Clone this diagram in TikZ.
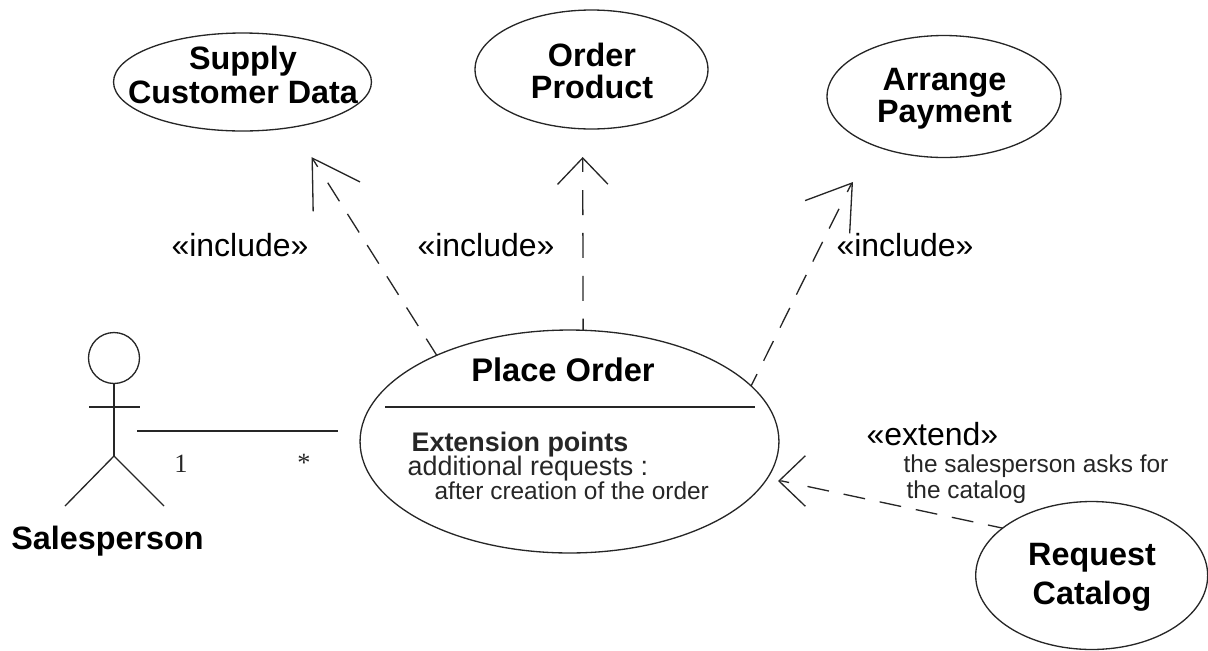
\documentclass[tikz,border=0pt]{standalone}
\usepackage{fontspec}
\setmainfont{Liberation Sans}
\newfontfamily\serifnum{Liberation Serif}
\usetikzlibrary{shapes.geometric, arrows.meta, positioning}

\begin{document}
\begin{tikzpicture}[
    x=0.02cm, y=-0.02cm,
    line width=0.75pt,
    usecase/.style = {
        ellipse, draw=black!85, inner sep=0pt, outer sep=0pt
    },
    title/.style = {
        align=center, inner sep=0pt, font=\fontsize{18.4}{18.3}\selectfont\bfseries
    },
    stereo/.style = {
        inner sep=0pt, font=\fontsize{18.2}{20}\selectfont
    },
    small/.style = {
        inner sep=0pt, text=black!85, font=\fontsize{13.9}{15}\selectfont
    },
    extpoint/.style = {
        inner sep=0pt, text=black!85, font=\fontsize{15.3}{17}\selectfont
    },
    mult/.style = {
        inner sep=0pt, text=black!85, font=\fontsize{15}{15}\serifnum
    },
    depline/.style = {
        draw=black!85,
        dash pattern=on 5.5pt off 10.7pt on 12.5pt off 8.5pt on 12.5pt off 8.5pt
            on 12.5pt off 8.5pt on 12.5pt off 8.5pt on 12.5pt off 8.5pt
            on 12.5pt off 8.5pt on 12.5pt off 8.5pt on 12.5pt off 8.5pt
    },
    bigdep/.style = {
        {Straight Barb[length=#1, width=31.5pt]}-, depline
    },
    smalldep/.style = {
        {Straight Barb[length=15pt, width=28.7pt]}-, depline
    },
    limb/.style = {draw=black!85},
]
\useasboundingbox (0,0) rectangle (1208,650);

% Use cases
\node[usecase, minimum width=5.16cm, minimum height=1.96cm] (supply) at (242.5,82) {};
\node[usecase, minimum width=4.66cm, minimum height=2.38cm] (order) at (591.5,69.5) {};
\node[usecase, minimum width=4.68cm, minimum height=2.44cm] (arrange) at (944,96.5) {};
\node[usecase, minimum width=8.38cm, minimum height=4.46cm] (place) at (569.5,441.5) {};
\node[usecase, minimum width=4.64cm, minimum height=2.96cm] (request) at (1091.7,575.5) {};

\node[title, font=\fontsize{18.4}{19}\selectfont\bfseries] (supplyText) at (243,75) {Supply\\Customer Data};
\node[title] (orderText) at (592,71) {Order\\Product};
\node[title] (arrangeText) at (944.5,99) {Arrange\\Payment};
\node[title, font=\fontsize{18.4}{22}\selectfont\bfseries] (requestText) at (1092,577) {Request\\Catalog};

% Place Order compartments
\node[title, font=\fontsize{18.6}{19}\selectfont\bfseries] (placeText) at (563,370) {Place Order};
\coordinate (divL) at (385,407);
\coordinate (divR) at (755,407);
\draw[limb] (divL) -- (divR);
\node[extpoint, font=\fontsize{15.3}{17}\selectfont\bfseries, anchor=base west] (extHead) at (411,451) {Extension points};
\node[extpoint, anchor=base west] (extReq) at (407,475) {additional requests :};
\node[small, anchor=base west] (extAfter) at (434,499) {after creation of the order};

% Actor
\node[circle, draw=black!85, inner sep=0pt, outer sep=0pt, minimum size=1.02cm] (head) at (114,358) {};
\coordinate (hip) at (114,456);
\coordinate (armL) at (89,407);
\coordinate (armR) at (140,407);
\coordinate (footL) at (65,506);
\coordinate (footR) at (164,506);
\draw[limb] (head) -- (hip);
\draw[limb] (armL) -- (armR);
\draw[limb] (footL) -- (hip) -- (footR);
\node[title, below=0.5cm of hip, yshift=-0.88cm, xshift=-0.13cm] (actorName) {Salesperson};

% Association
\coordinate (assocL) at (137,431);
\coordinate (assocR) at (338,431);
\draw[limb] (assocL) -- (assocR);
\node[mult] (multOne) at (181,464) {1};
\node[mult] (multMany) at (304,463) {*};

% Dependencies
\coordinate (supplyTip) at (311.5,157);
\coordinate (orderTip) at (582.7,157);
\coordinate (arrangeTip) at (853,182);
\coordinate (arrangeBend) at (850.8,185);
\coordinate (placeTip) at (778,481);
\coordinate (placeBend) at (782,481);
\draw[bigdep=26pt] (supplyTip) -- (place.147);
\draw[smalldep, dash pattern=on 7.5pt off 10.4pt on 14.2pt off 10.2pt on 14.2pt off 10.2pt
    on 14.2pt off 10.2pt on 14.2pt off 10.2pt] (orderTip) -- (place.83);
\draw[bigdep=24pt] (arrangeTip) -- (arrangeBend) -- (place.17);
\draw[smalldep] (placeTip) -- (placeBend) -- (request.152);

\node[stereo] (incA) at (240,245) {«include»};
\node[stereo] (incB) at (486,245) {«include»};
\node[stereo] (incC) at (905,245) {«include»};
\node[stereo, anchor=base west] (extendLbl) at (866,445) {«extend»};
\node[small, anchor=base west] (extendA) at (903,472) {the salesperson asks for};
\node[small, anchor=base west] (extendB) at (906,498) {the catalog};

\end{tikzpicture}
\end{document}
